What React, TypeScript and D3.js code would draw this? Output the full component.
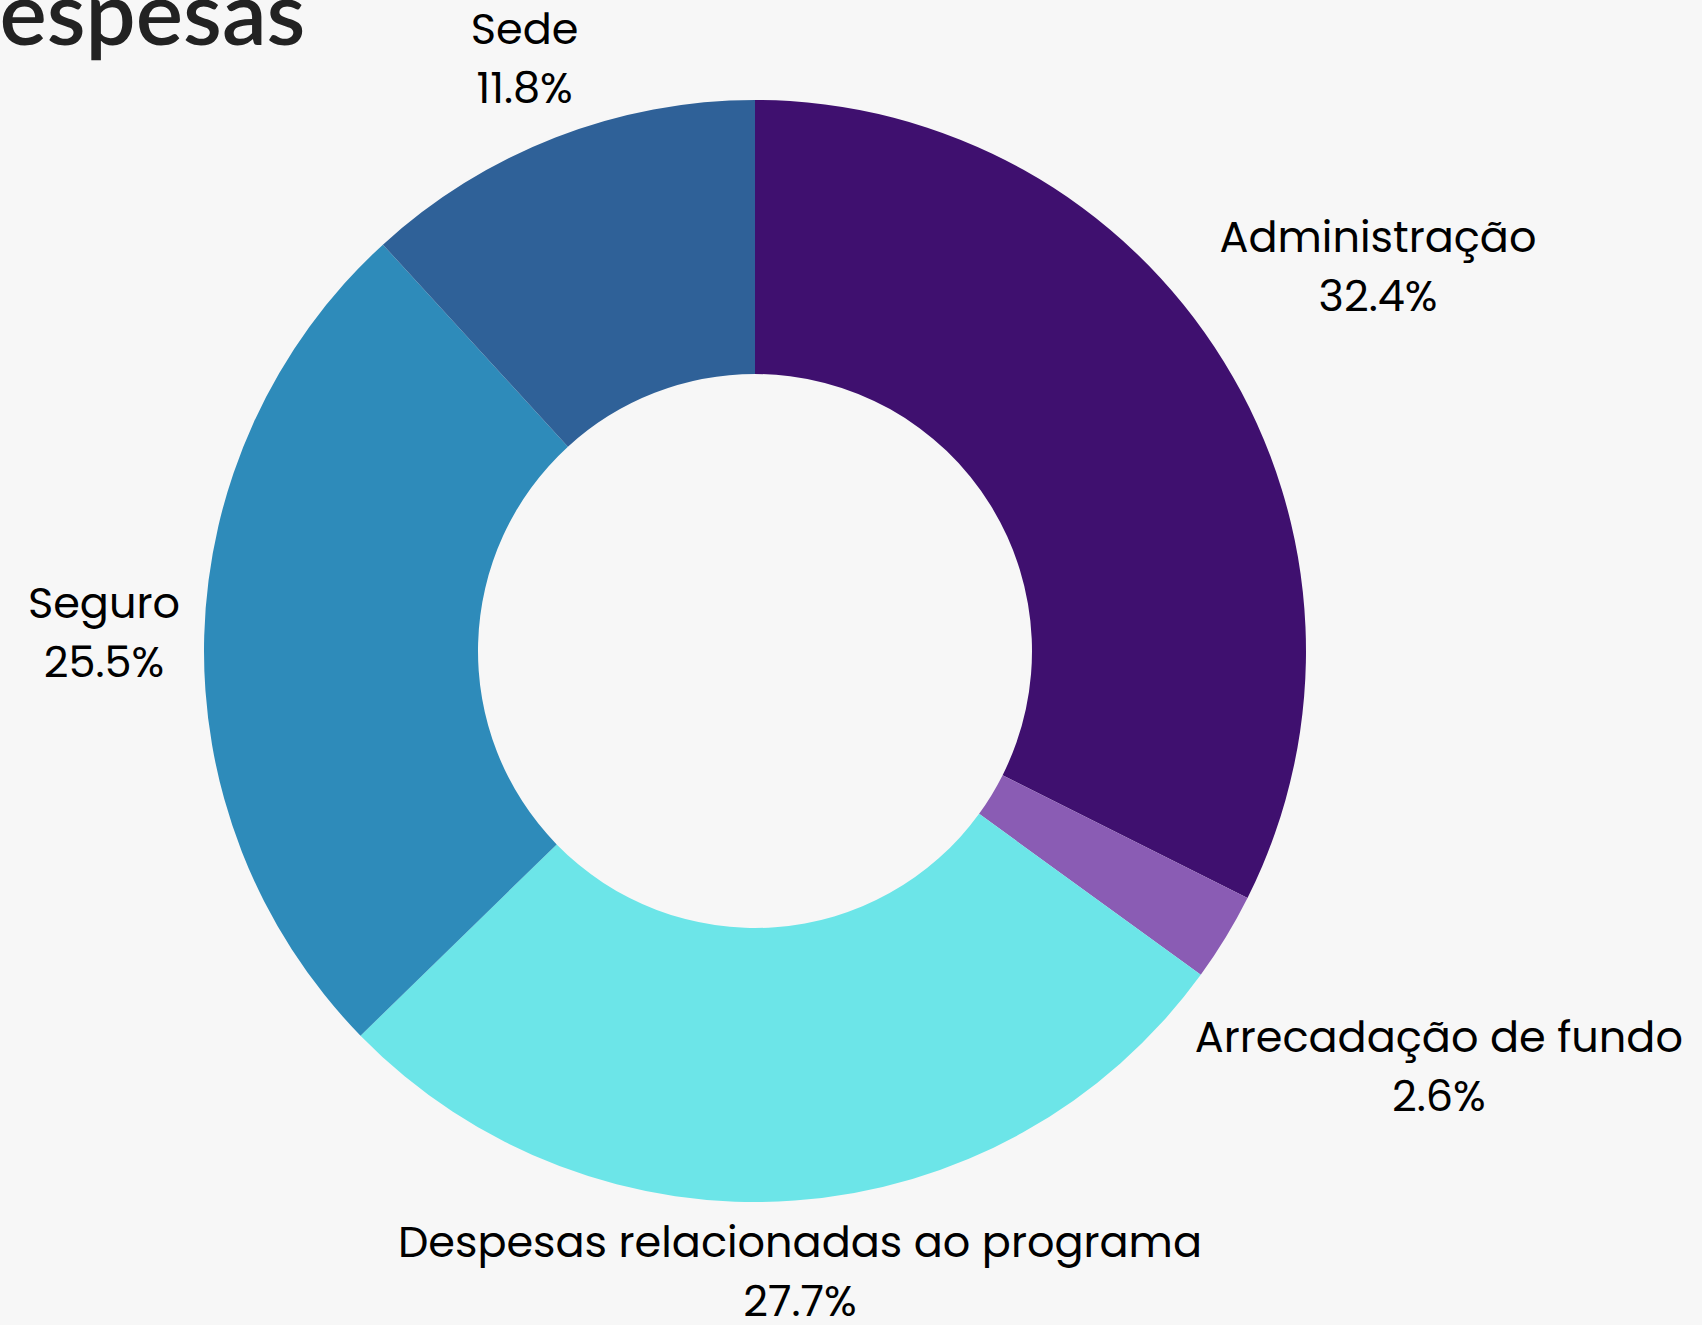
import * as d3 from "d3";

const categories = [
  "Administração",
  "Arrecadação de fundo",
  "Despesas relacionadas ao programa",
  "Seguro",
  "Sede",
];
const values = [32.4, 2.6, 27.7, 25.5, 11.8];
const colors = ["#3f106f", "#8a5cb4", "#6ce5e8", "#2e8bba", "#2f6198"];

const title = "Despesas";

const width = 1702;
const height = 1325;
const cx = 755;
const cy = 651;
const outerR = 551;
const innerR = 277;
const labelGap = 24;
const fontSize = 43;
const lineGap = 59;
const labelFont = "Poppins, 'Noto Sans', sans-serif";
const titleFont = "Lato, sans-serif";
const titleSize = 89;

const ctx = document.createElement("canvas").getContext("2d");
function measure(text: string, font: string) {
  if (!ctx) return text.length * 0.55 * fontSize;
  ctx.font = font;
  return ctx.measureText(text).width;
}

// push the label box out along the mid angle until its nearest corner clears the ring
function labelCenter(angle: number, w: number, h: number) {
  const ux = Math.sin(angle);
  const uy = -Math.cos(angle);
  const target = outerR + labelGap;
  const nearest = (r: number) => {
    const x = r * ux;
    const y = r * uy;
    const nx = Math.max(Math.abs(x) - w / 2, 0);
    const ny = Math.max(Math.abs(y) - h / 2, 0);
    return Math.hypot(nx, ny);
  };
  let lo = 0;
  let hi = outerR * 3;
  for (let i = 0; i < 60; i++) {
    const mid = (lo + hi) / 2;
    if (nearest(mid) < target) lo = mid;
    else hi = mid;
  }
  return [hi * ux, hi * uy];
}

export default function App() {
  const pie = d3
    .pie<number>()
    .sort(null)
    .value((d) => d);
  const arcs = pie(values);
  const arc = d3.arc<d3.PieArcDatum<number>>().innerRadius(innerR).outerRadius(outerR);

  const labelFontStr = `${fontSize}px ${labelFont}`;
  const dWidth = measure("D", `600 ${titleSize}px ${titleFont}`);

  return (
    <svg
      width={width}
      height={height}
      style={{ display: "block", position: "absolute", left: 0, top: 0, background: "#f7f7f7" }}
    >
      <rect width={width} height={height} fill="#f7f7f7" />
      <text
        x={-dWidth}
        y={45}
        fontFamily={titleFont}
        fontWeight={600}
        fontSize={titleSize}
        fill="#222222"
      >
        {title}
      </text>
      <g transform={`translate(${cx},${cy})`}>
        {arcs.map((a, i) => (
          <path key={categories[i]} d={arc(a) || ""} fill={colors[i]} />
        ))}
        {arcs.map((a, i) => {
          const pct = `${values[i].toFixed(1)}%`;
          const w = Math.max(measure(categories[i], labelFontStr), measure(pct, labelFontStr));
          const h = lineGap + fontSize * 0.75;
          const mid = (a.startAngle + a.endAngle) / 2;
          const [lx, ly] = labelCenter(mid, w, h);
          const top = ly - h / 2 + fontSize * 0.72;
          return (
            <text
              key={"l" + i}
              textAnchor="middle"
              fontFamily={labelFont}
              fontSize={fontSize}
              fill="#000000"
            >
              <tspan x={lx} y={top}>
                {categories[i]}
              </tspan>
              <tspan x={lx} y={top + lineGap}>
                {pct}
              </tspan>
            </text>
          );
        })}
      </g>
    </svg>
  );
}
